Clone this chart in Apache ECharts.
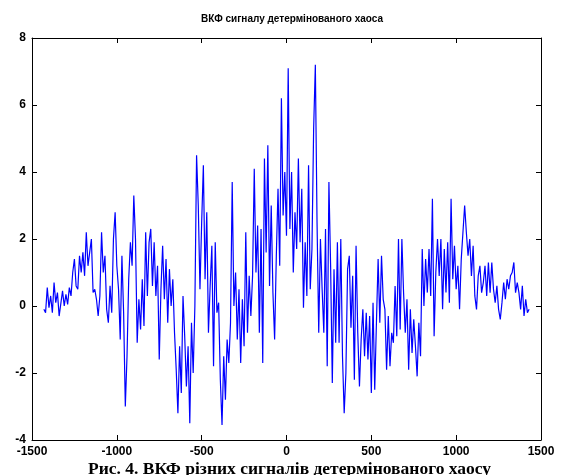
<!DOCTYPE html>
<html>
<head>
<meta charset="utf-8">
<script src="https://cdn.jsdelivr.net/npm/echarts@6/dist/echarts.min.js"></script>
<style>
  html, body { margin: 0; padding: 0; background: #fff; }
  #main { width: 564px; height: 475px; }
</style>
</head>
<body>
<div id="main"></div>
<script>
// lag axis: values read every 10 lags from -1430 to 1430
const lagStart = -1430;
const lagStep = 10;

// ВКФ values, 10 per 100 lags
const ccf = [
  -0.1, -0.2, 0.55, -0.05, 0.3, -0.2, 0.7, 0.1, 0.4, -0.3,
  -0.3, 0.45, 0.0, 0.35, 0.05, 0.55, 0.3, 1.0, 1.4, 0.6,
  0.5, 1.5, 1.0, 1.6, 0.9, 2.2, 1.2, 1.6, 2.0, 0.4,
  0.5, 0.2, -0.3, 0.3, 2.2, 1.0, 1.5, -0.1, -0.5, 0.6,
  -0.2, 2.0, 2.8, 1.2, 0.5, -1.0, 1.5, -0.2, -3.0, -1.5,
  0.8, 1.9, 1.2, 3.3, 2.0, -1.1, 0.2, -0.7, 0.8, -0.6,
  2.2, 0.3, 1.9, 2.3, 0.6, 1.9, 0.3, 1.2, -1.6, 0.5,
  1.8, 0.2, 1.4, -0.5, 1.1, 0.0, 0.8, -0.8, -1.9, -3.2,
  -1.2, -2.6, 0.3, -0.9, -2.4, -1.2, -3.5, -0.5, -2.0, 0.0,
  4.5, 3.0, 0.5, 2.5, 4.2, 0.8, 2.8, -0.8, 0.6, 1.8,
  -1.8, 1.9, -0.2, 0.1, -2.2, -3.55, -1.5, -2.8, -1.0, -1.7,
  -0.5, 3.7, 0.0, 1.0, -1.0, 0.5, -1.7, 0.2, -1.2, 2.2,
  -0.8, 0.9, -0.3, 0.9, 4.1, 1.0, 2.4, -0.8, 2.3, -1.7,
  4.4, 1.6, 4.8, 0.6, 3.0, 0.4, -1.0, 1.5, 3.5, 1.2,
  6.2, 2.7, 4.0, 2.1, 7.1, 2.3, 4.0, 1.0, 2.8, 1.7,
  4.4, 1.9, 3.5, -0.05, 1.9, 0.3, 4.2, 0.5, 1.7, 5.3,
  7.2, 2.5, -0.8, 2.0, 0.5, -0.8, 2.3, -1.8, 3.7, 1.2,
  -2.3, 1.1, -1.1, 1.9, -1.1, 2.0, -1.5, -3.2, -2.0, 1.1,
  1.5, -0.65, 0.9, -2.2, 1.8, -0.8, -2.4, -1.0, -0.1, -1.5,
  -0.2, -1.6, -0.3, -2.6, 0.1, -2.5, -0.5, 1.4, -0.5, 1.5,
  0.2, -0.1, -1.9, -0.3, -1.8, -0.8, -1.1, 0.6, -0.9, 2.0,
  -0.7, 2.0, 0.4, -0.8, 0.2, -1.9, -0.1, -1.4, -0.4, -1.2,
  -2.1, -0.5, -1.5, 1.7, 0.0, 1.4, 0.4, 1.7, 0.3, 3.2,
  -0.9, 1.0, 2.0, 0.9, 2.0, -0.1, 1.7, 0.4, 1.9, 0.1,
  3.2, 0.8, 1.8, 0.5, 1.2, -0.1, 1.4, 2.2, 3.0, 2.2,
  1.5, 2.0, 0.9, 1.8, 0.3, -0.1, 0.9, 1.2, 0.4, 0.7,
  1.2, 0.3, 1.3, 0.4, 1.3, 0.5, 0.1, 0.6, -0.1, -0.4,
  0.1, 0.7, 0.2, 0.8, 0.5, 0.9, 1.0, 1.3, 0.4, 0.7,
  0.4, -0.1, 0.6, -0.3, 0.2, -0.2, -0.1
];

const xTicks = [-1500, -1000, -500, 0, 500, 1000, 1500];
const yTicks = [-4, -2, 0, 2, 4, 6, 8];

const chartTitle = 'ВКФ сигналу детермінованого хаоса';
const caption = 'Рис. 4. ВКФ різних сигналів детермінованого хаосу';

const points = ccf.map((v, i) => [lagStart + i * lagStep, v]);

const myChart = echarts.init(document.getElementById('main'));

const labelFont = {
  color: '#000',
  fontFamily: 'Liberation Sans, Arial, sans-serif',
  fontWeight: 'bold',
  fontSize: 12
};

const boxLine = { show: true, onZero: false, lineStyle: { color: '#000', width: 1 } };
const inTick = { show: true, inside: true, length: 5, lineStyle: { color: '#000', width: 1 } };

const option = {
  animation: false,
  backgroundColor: '#fff',
  title: {
    text: chartTitle,
    left: 287,
    textAlign: 'center',
    top: 9,
    textStyle: {
      fontFamily: 'Liberation Sans, Arial, sans-serif',
      fontWeight: 'bold',
      fontSize: 10,
      color: '#000'
    }
  },
  graphic: [
    {
      type: 'text',
      left: 88,
      top: 460,
      style: {
        text: caption,
        fill: '#000',
        font: 'bold 17.5px "Liberation Serif", "Times New Roman", serif'
      }
    }
  ],
  grid: { left: 32, right: 23, top: 38, bottom: 35, containLabel: false },
  xAxis: [
    {
      type: 'value',
      position: 'bottom',
      min: -1500,
      max: 1500,
      interval: 500,
      axisLine: boxLine,
      axisTick: inTick,
      splitLine: { show: false },
      axisLabel: Object.assign({ margin: 6, formatter: (v) => String(v) }, labelFont)
    },
    {
      type: 'value',
      position: 'top',
      min: -1500,
      max: 1500,
      interval: 500,
      axisLine: boxLine,
      axisTick: inTick,
      splitLine: { show: false },
      axisLabel: { show: false }
    }
  ],
  yAxis: [
    {
      type: 'value',
      position: 'left',
      min: -4,
      max: 8,
      interval: 2,
      axisLine: boxLine,
      axisTick: inTick,
      splitLine: { show: false },
      axisLabel: Object.assign({ margin: 6 }, labelFont)
    },
    {
      type: 'value',
      position: 'right',
      min: -4,
      max: 8,
      interval: 2,
      axisLine: boxLine,
      axisTick: inTick,
      splitLine: { show: false },
      axisLabel: { show: false }
    }
  ],
  series: [
    {
      name: 'ВКФ',
      type: 'line',
      data: points,
      showSymbol: false,
      symbol: 'none',
      lineStyle: { color: '#0000ff', width: 1.2 },
      itemStyle: { color: '#0000ff' }
    }
  ]
};

myChart.setOption(option);
</script>
</body>
</html>
